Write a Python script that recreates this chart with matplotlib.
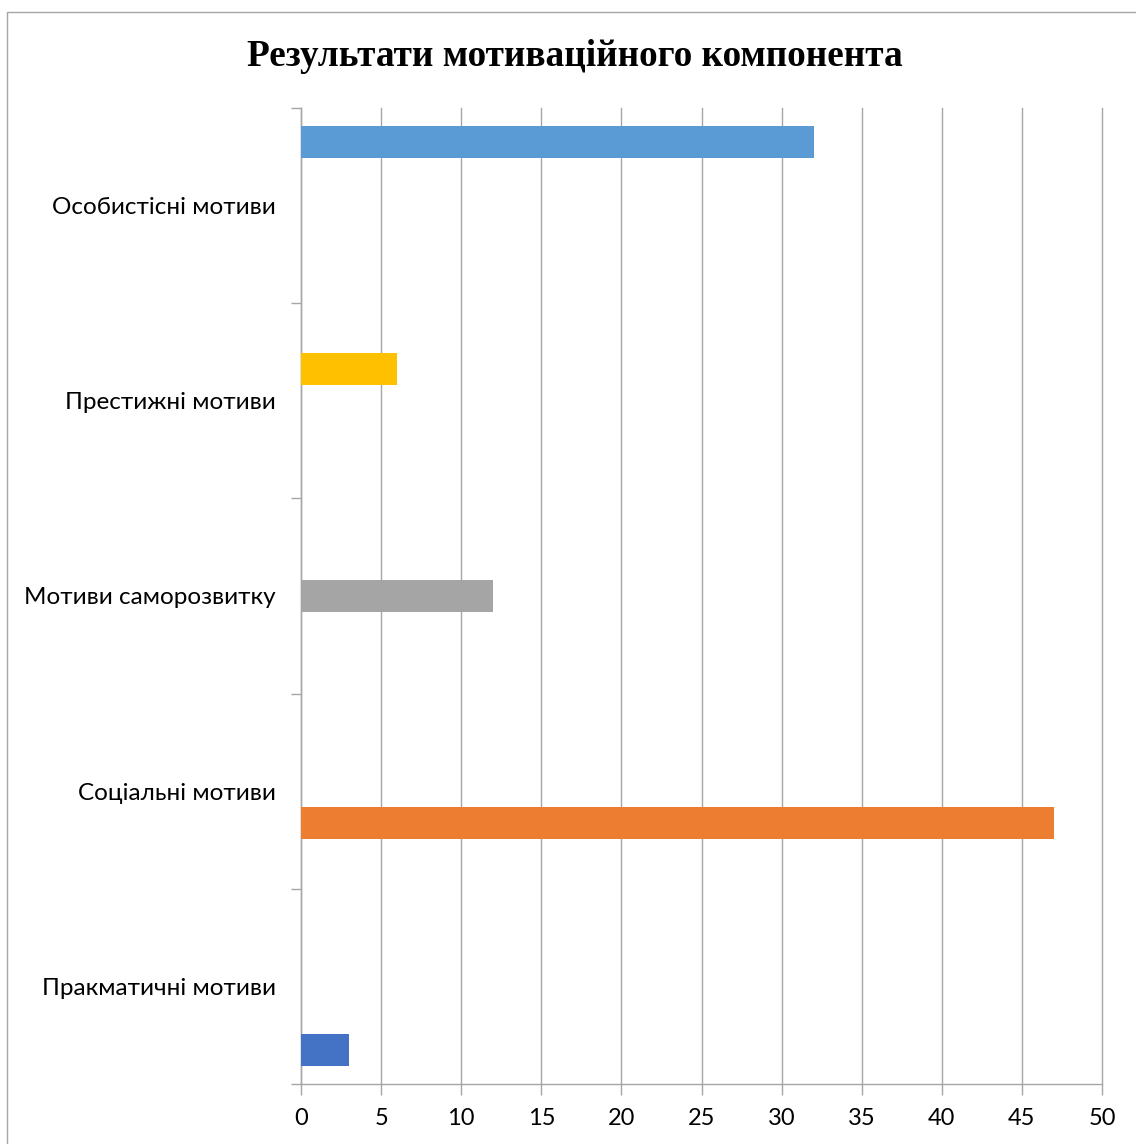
import matplotlib
matplotlib.use("Agg")
import matplotlib.pyplot as plt
from matplotlib.patches import Rectangle
import numpy as np

# Data (categories bottom -> top, as in the chart)
categories = ["Пракматичні мотиви", "Соціальні мотиви", "Мотиви саморозвитку",
              "Престижні мотиви", "Особистісні мотиви"]
# each series has a value only in its own category
series_values = [
    [3, 0, 0, 0, 0],
    [0, 47, 0, 0, 0],
    [0, 0, 12, 0, 0],
    [0, 0, 0, 6, 0],
    [0, 0, 0, 0, 32],
]
series_colors = ["#4472C4", "#ED7D31", "#A5A5A5", "#FFC000", "#5B9BD5"]
x_ticks = list(range(0, 55, 5))

label_font = "Lato"

fig = plt.figure(figsize=(11.36, 11.44), dpi=100)
ax = fig.add_axes([301 / 1136, 1 - 1084 / 1144, 801 / 1136, 976 / 1144])

y = np.arange(len(categories))
bar_h = 0.164
for k, (vals, col) in enumerate(zip(series_values, series_colors)):
    ax.barh(y + (k - 2) * bar_h, vals, height=bar_h, color=col, zorder=3)

ax.set_xlim(0, 50)
ax.set_ylim(-0.5, len(categories) - 0.5)
ax.set_xticks(x_ticks)
ax.set_xticklabels([str(t) for t in x_ticks], fontsize=17, family=label_font)
ax.grid(axis="x", color="#A6A6A6", linewidth=1, zorder=0)
for gl in ax.get_xgridlines():
    gl.set_clip_on(False)

# category labels at centers, tick marks at boundaries
ax.set_yticks(y)
ax.set_yticklabels(categories, fontsize=17.5, family=label_font)
ax.tick_params(axis="y", which="major", length=0, pad=18)
ax.set_yticks(np.arange(-0.5, len(categories), 1), minor=True)
ax.tick_params(axis="y", which="minor", length=7, width=1, color="#A6A6A6", direction="out")
ax.tick_params(axis="x", length=8, width=1, color="#A6A6A6", direction="out", pad=9)

for s in ["top", "right"]:
    ax.spines[s].set_visible(False)
for s in ["left", "bottom"]:
    ax.spines[s].set_color("#A6A6A6")
    ax.spines[s].set_linewidth(1)

fig.text(575 / 1136, 1 - 56 / 1144, "Результати мотиваційного компонента",
         ha="center", va="center", fontsize=26.8, fontweight="bold", family="Liberation Serif")

# chart border
fig.patches.append(Rectangle((7 / 1136, -0.05), 1.1, 1 - 12 / 1144 + 0.05,
                             transform=fig.transFigure, fill=False,
                             edgecolor="#A6A6A6", linewidth=1))

fig.savefig("out.png", dpi=100)
